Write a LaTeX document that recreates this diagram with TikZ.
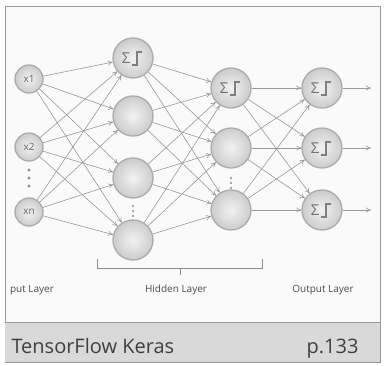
\documentclass[tikz,border=0pt]{standalone}
\usepackage{fontspec}
\setmainfont{Open Sans}
\usetikzlibrary{arrows.meta,calc}

\tikzset{
  neuron/.style={circle, draw=black!33, line width=1.3pt, inner color=black!5, outer color=black!20, inner sep=0pt, minimum size=40pt},
  inneuron/.style={neuron, minimum size=28pt, font=\fontsize{10}{10}\selectfont, text=black!60},
  link/.style={draw=black!40, line width=0.6pt, -{To[length=5pt,width=5pt]}},
  layerlabel/.style={font=\fontsize{10}{10}\selectfont, text=black!70},
}
% sigma and step drawn inside a neuron
\newcommand{\actfn}[1]{%
  \node[text=black!55, font=\fontsize{15}{15}\selectfont] at ($(#1)+(-7,0)$) {Σ};
  \draw[black!50, line width=1.1pt] ($(#1)+(-1,7)$) -- ++(5,0) -- ++(0,-13) -- ++(5,0);
}

\begin{document}
\begin{tikzpicture}[x=1pt, y=-1pt]
    %%%%% FRAME %%%%%
    \useasboundingbox (0,0) rectangle (385,365);
    \draw[black!40, line width=0.8pt, fill=black!2] (5,6) rectangle (380,362);
    \fill[black!15] (5,322) rectangle (380,362);
    \draw[black!40, line width=0.8pt] (5,322) -- (380,322);

    %%%%% NODES %%%%%
    \node[inneuron] (i1) at (29,79) {x1};
    \node[inneuron] (i2) at (29,147) {x2};
    \node[inneuron] (i3) at (29,212) {xn};

    \node[neuron] (h1) at (133,58) {};
    \node[neuron] (h2) at (133,116) {};
    \node[neuron] (h3) at (133,178) {};
    \node[neuron] (h4) at (133,240) {};

    \node[neuron] (k1) at (231,88) {};
    \node[neuron] (k2) at (231,148) {};
    \node[neuron] (k3) at (231,210) {};

    \node[neuron] (o1) at (322,88) {};
    \node[neuron] (o2) at (322,148) {};
    \node[neuron] (o3) at (322,210) {};

    %%%%% LINKS %%%%%
    \foreach \a in {i1,i2,i3}
      \foreach \b in {h1,h2,h3,h4}
        \draw[link] (\a) -- (\b);
    \foreach \a in {h1,h2,h3,h4}
      \foreach \b in {k1,k2,k3}
        \draw[link] (\a) -- (\b);
    \foreach \a in {k1,k2,k3}
      \foreach \b in {o1,o2,o3}
        \draw[link] (\a) -- (\b);
    \foreach \b in {1,2,3} {
      \coordinate (e\b) at ($(o\b)+(49,0)$);
      \draw[link] (o\b) -- (e\b);
    }

    \actfn{h1}
    \actfn{k1}
    \actfn{o1}
    \actfn{o2}
    \actfn{o3}

    %%%%% DOTS %%%%%
    \foreach \y in {170,178,186} \fill[black!45] (29,\y) circle (1.6);
    \foreach \y in {206,211,216} \fill[black!45] (133,\y) circle (1.2);
    \foreach \y in {178,183,188} \fill[black!45] (231,\y) circle (1.2);

    %%%%% BRACE %%%%%
    \draw[black!45, line width=0.8pt] (97,259) -- (97,268) -- (262,268) -- (262,259);
    \draw[black!45, line width=0.8pt] (180,268) -- (180,275);

    %%%%% LABELS %%%%%
    \node[layerlabel] (lin) at (32,290) {put Layer};
    \node[layerlabel] (lhid) at (176,290) {Hidden Layer};
    \node[layerlabel] (lout) at (323,290) {Output Layer};

    \node[anchor=base west, font=\fontsize{20}{20}\selectfont, text=black!75] (book) at (8,353) {TensorFlow Keras};
    \node[anchor=base east, font=\fontsize{20}{20}\selectfont, text=black!75] (page) at (362,353) {p.133};
\end{tikzpicture}
\end{document}
